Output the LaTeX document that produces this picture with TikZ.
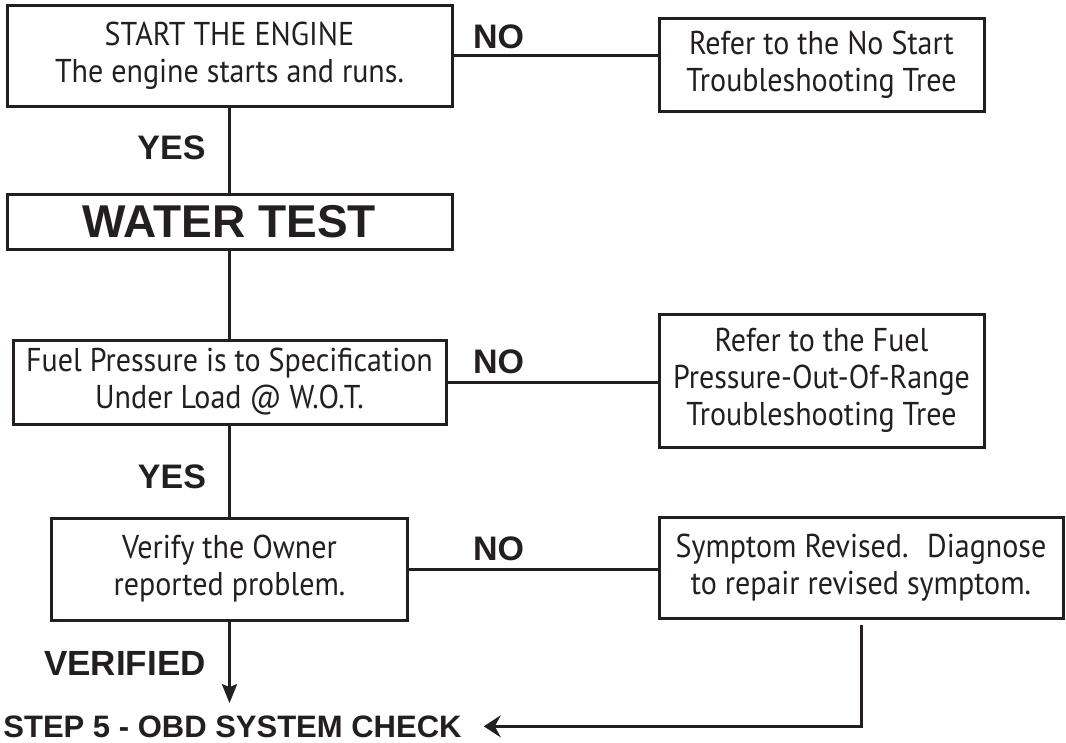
\documentclass[tikz,border=0pt]{standalone}
\usepackage{fontspec}
\setmainfont{PT Sans}[FakeStretch=0.91]
\newfontfamily\labfont{Liberation Sans}
\usetikzlibrary{arrows.meta}
\definecolor{ink}{RGB}{35,31,32}
\begin{document}
\begin{tikzpicture}[x=1pt,y=-1pt,
  box/.style={draw=ink, line width=3pt, inner sep=0pt, align=center, text=ink,
    font=\fontsize{33}{37}\selectfont},
  lab/.style={text=ink, inner sep=0pt, anchor=base, font=\labfont\bfseries\fontsize{34}{34}\selectfont},
  conn/.style={draw=ink, line width=3pt},
  tipdown/.style={-{Stealth[length=19pt,width=15pt,inset=3pt]}},
  tipleft/.style={-{Stealth[length=17pt,width=22pt,inset=6pt]}}
]
\useasboundingbox (0,0) rectangle (1066,742);
\fill[white] (0,0) rectangle (1066,742);

\node[box, minimum width=445pt, minimum height=101pt] (start) at (229.5,55.5)
  {START THE ENGINE\\The engine starts and runs.};
\node[box, minimum width=325pt, minimum height=93pt] (nostart) at (821.5,64.5)
  {Refer to the No Start\\Troubleshooting Tree};
\node[box, minimum width=445pt, minimum height=55pt,
  font=\labfont\bfseries\fontsize{46}{46}\selectfont] (water) at (229.5,221.5) {WATER TEST};
\node[box, minimum width=433pt, minimum height=84pt] (fuel) at (229.5,382)
  {Fuel Pressure is to Specification\\Under Load @ W.O.T.};
\node[box, minimum width=325pt, minimum height=133pt] (range) at (821.5,380.5)
  {Refer to the Fuel\\Pressure-Out-Of-Range\\Troubleshooting Tree};
\node[box, minimum width=356pt, minimum height=102pt] (verify) at (229.5,569)
  {Verify the Owner\\reported problem.};
\node[box, minimum width=404pt, minimum height=101pt] (symptom) at (861,567.5)
  {Symptom Revised.~ Diagnose\\to repair revised symptom.};
\node[lab, font=\labfont\bfseries\fontsize{31}{31}\selectfont] (obd) at (232.5,737)
  {STEP 5 - OBD SYSTEM CHECK};

\node[lab] (no1) at (498.5,48) {NO};
\node[lab] (no2) at (498.5,373) {NO};
\node[lab] (no3) at (498.5,560) {NO};
\node[lab] (yes1) at (171.5,159) {YES};
\node[lab] (yes2) at (172,488) {YES};
\node[lab, font=\labfont\bfseries\fontsize{35}{35}\selectfont] (verified) at (125,675) {VERIFIED};

\draw[conn] (start.east) -- (start.east -| nostart.west);
\draw[conn] (start) -- (water);
\draw[conn] (water) -- (fuel);
\draw[conn] (fuel.east) -- (fuel.east -| range.west);
\draw[conn] (fuel) -- (verify);
\draw[conn] (verify.east) -- (verify.east -| symptom.west);
\draw[conn, tipdown, shorten >=12pt] (verify.south) -- (verify.south |- obd.north);
\draw[conn, tipleft, shorten <=5pt, shorten >=22pt] (symptom.south) |- (obd.east);
\end{tikzpicture}
\end{document}
